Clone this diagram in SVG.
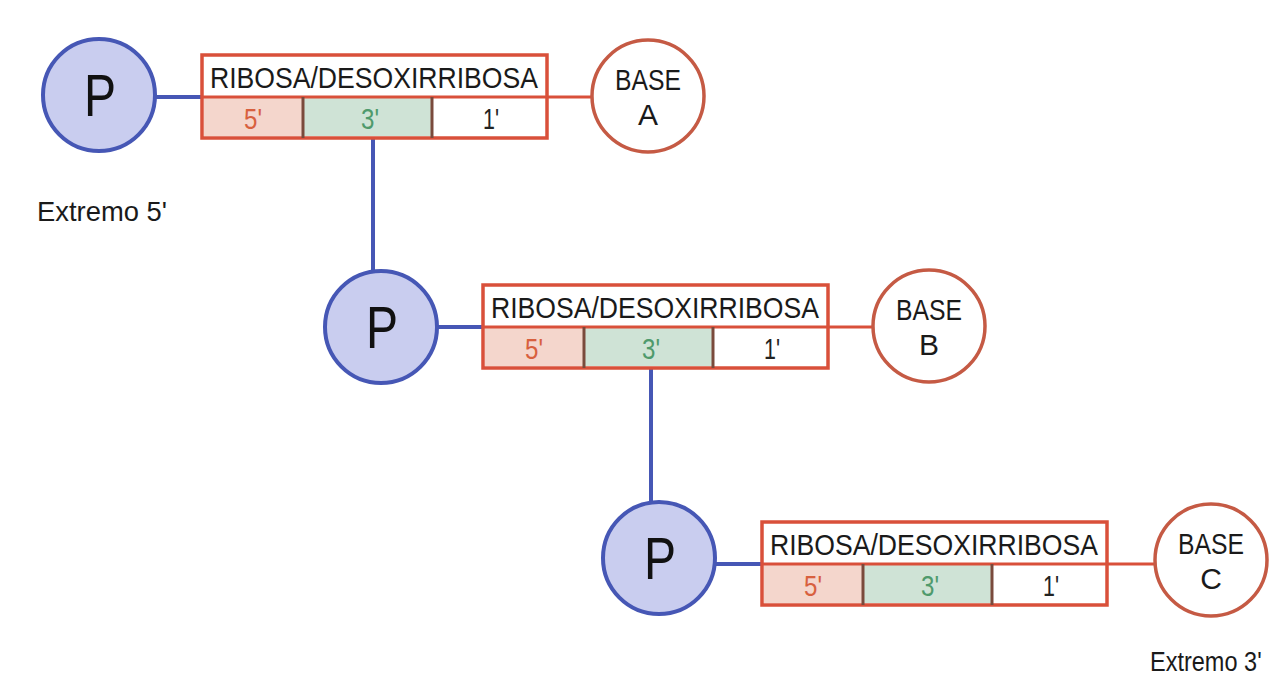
<svg xmlns="http://www.w3.org/2000/svg" width="1276" height="687" viewBox="0 0 1276 687">
<style>
.pc{fill:#c9cdef;stroke:#4657b5;stroke-width:4}
.pt{font-family:"Liberation Sans",Arial,sans-serif;font-size:60px;fill:#111;text-anchor:middle}
.box{fill:#fff;stroke:#d9503a;stroke-width:3.5}
.c5{fill:#f4d6cc}
.c3{fill:#cfe3d6}
.sep{stroke:#7a4a3c;stroke-width:3}
.div{stroke:#d9503a;stroke-width:3}
.tt{font-family:"Liberation Sans",Arial,sans-serif;font-size:29px;fill:#1a1a1a}
.cl{font-family:"Liberation Sans",Arial,sans-serif;font-size:30px;text-anchor:middle}
.bc{fill:#fff;stroke:#c55a44;stroke-width:3.5}
.bt{font-family:"Liberation Sans",Arial,sans-serif;font-size:30px;fill:#1a1a1a;text-anchor:middle}
.lab{font-family:"Liberation Sans",Arial,sans-serif;font-size:28px;fill:#1a1a1a}
.blue{stroke:#4657b5;stroke-width:4;fill:none}
.red{stroke:#d9503a;stroke-width:3;fill:none}
</style>
<rect width="1276" height="687" fill="#fff"/>
<g id="connectors">
<line class="blue" x1="153" y1="97" x2="202" y2="97"/>
<line class="red" x1="547" y1="97" x2="592" y2="97"/>
<line class="blue" x1="373" y1="138" x2="373" y2="271"/>
<line class="blue" x1="435" y1="327" x2="483" y2="327"/>
<line class="red" x1="828" y1="327" x2="873" y2="327"/>
<line class="blue" x1="651" y1="368" x2="651" y2="501"/>
<line class="blue" x1="713" y1="564" x2="762" y2="564"/>
<line class="red" x1="1107" y1="564" x2="1155" y2="564"/>
</g>
<g id="P1"><circle class="pc" cx="99" cy="95" r="56"/><text class="pt" x="100" y="116" textLength="32" lengthAdjust="spacingAndGlyphs">P</text></g>
<g id="sugar1">
<rect class="box" x="202" y="55" width="345" height="83"/>
<rect class="c5" x="204" y="98" width="99" height="38"/>
<rect class="c3" x="303" y="98" width="129" height="38"/>
<line class="div" x1="202" y1="97" x2="547" y2="97"/>
<line class="sep" x1="303" y1="97" x2="303" y2="138"/>
<line class="sep" x1="432" y1="97" x2="432" y2="138"/>
<text class="tt" x="210" y="88" textLength="328" lengthAdjust="spacingAndGlyphs">RIBOSA/DESOXIRRIBOSA</text>
<text class="cl" x="253" y="129" fill="#d8603e" textLength="18" lengthAdjust="spacingAndGlyphs">5'</text>
<text class="cl" x="370" y="129" fill="#4f9a6c" textLength="18" lengthAdjust="spacingAndGlyphs">3'</text>
<text class="cl" x="491" y="129" fill="#222" textLength="16" lengthAdjust="spacingAndGlyphs">1'</text>
</g>
<g id="base1"><circle class="bc" cx="648" cy="96" r="56"/><text class="bt" x="648" y="90" textLength="66" lengthAdjust="spacingAndGlyphs">BASE</text><text class="bt" x="648" y="125">A</text></g>
<g id="P2"><circle class="pc" cx="381" cy="327" r="56"/><text class="pt" x="382" y="348" textLength="32" lengthAdjust="spacingAndGlyphs">P</text></g>
<g id="sugar2" transform="translate(281,230)">
<rect class="box" x="202" y="55" width="345" height="83"/>
<rect class="c5" x="204" y="98" width="99" height="38"/>
<rect class="c3" x="303" y="98" width="129" height="38"/>
<line class="div" x1="202" y1="97" x2="547" y2="97"/>
<line class="sep" x1="303" y1="97" x2="303" y2="138"/>
<line class="sep" x1="432" y1="97" x2="432" y2="138"/>
<text class="tt" x="210" y="88" textLength="328" lengthAdjust="spacingAndGlyphs">RIBOSA/DESOXIRRIBOSA</text>
<text class="cl" x="253" y="129" fill="#d8603e" textLength="18" lengthAdjust="spacingAndGlyphs">5'</text>
<text class="cl" x="370" y="129" fill="#4f9a6c" textLength="18" lengthAdjust="spacingAndGlyphs">3'</text>
<text class="cl" x="491" y="129" fill="#222" textLength="16" lengthAdjust="spacingAndGlyphs">1'</text>
</g>
<g id="base2"><circle class="bc" cx="929" cy="326" r="56"/><text class="bt" x="929" y="320" textLength="66" lengthAdjust="spacingAndGlyphs">BASE</text><text class="bt" x="929" y="355">B</text></g>
<g id="P3"><circle class="pc" cx="659" cy="558" r="56"/><text class="pt" x="660" y="579" textLength="32" lengthAdjust="spacingAndGlyphs">P</text></g>
<g id="sugar3" transform="translate(560,467)">
<rect class="box" x="202" y="55" width="345" height="83"/>
<rect class="c5" x="204" y="98" width="99" height="38"/>
<rect class="c3" x="303" y="98" width="129" height="38"/>
<line class="div" x1="202" y1="97" x2="547" y2="97"/>
<line class="sep" x1="303" y1="97" x2="303" y2="138"/>
<line class="sep" x1="432" y1="97" x2="432" y2="138"/>
<text class="tt" x="210" y="88" textLength="328" lengthAdjust="spacingAndGlyphs">RIBOSA/DESOXIRRIBOSA</text>
<text class="cl" x="253" y="129" fill="#d8603e" textLength="18" lengthAdjust="spacingAndGlyphs">5'</text>
<text class="cl" x="370" y="129" fill="#4f9a6c" textLength="18" lengthAdjust="spacingAndGlyphs">3'</text>
<text class="cl" x="491" y="129" fill="#222" textLength="16" lengthAdjust="spacingAndGlyphs">1'</text>
</g>
<g id="base3"><circle class="bc" cx="1211" cy="560" r="56"/><text class="bt" x="1211" y="554" textLength="66" lengthAdjust="spacingAndGlyphs">BASE</text><text class="bt" x="1211" y="589">C</text></g>
<g id="labels">
<text class="lab" x="37" y="221" textLength="130" lengthAdjust="spacingAndGlyphs">Extremo 5'</text>
<text class="lab" transform="translate(1150,671) scale(0.84,1)" x="0" y="0">Extremo 3'</text>
</g>
</svg>
